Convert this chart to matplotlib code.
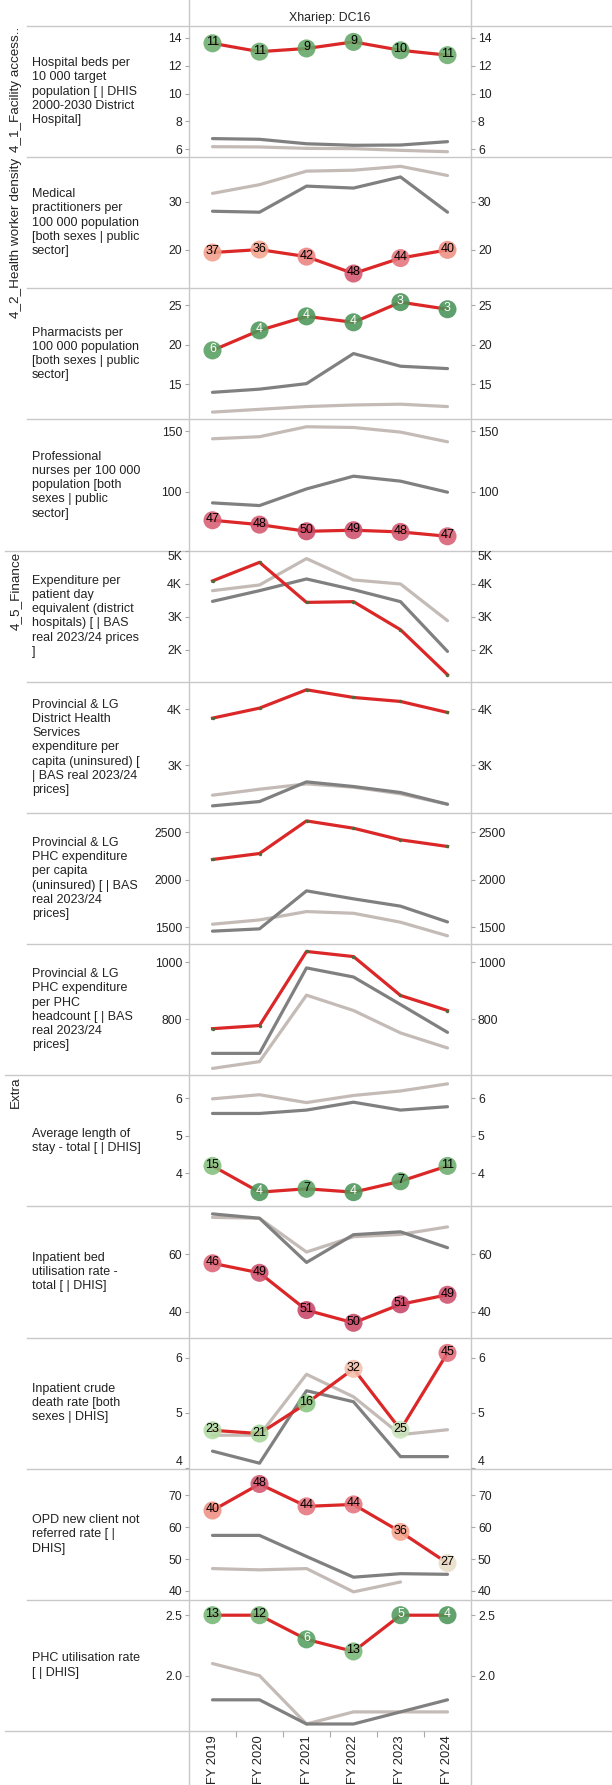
import numpy as np
import matplotlib.pyplot as plt
from matplotlib.colors import LinearSegmentedColormap

plt.rcParams['font.family'] = ['Liberation Sans', 'DejaVu Sans']

# --- data ---
years = ["FY 2019", "FY 2020", "FY 2021", "FY 2022", "FY 2023", "FY 2024"]

row_labels = [
    "Hospital beds per\n10 000 target\npopulation [ | DHIS\n2000-2030 District\nHospital]",
    "Medical\npractitioners per\n100 000 population\n[both sexes | public\nsector]",
    "Pharmacists per\n100 000 population\n[both sexes | public\nsector]",
    "Professional\nnurses per 100 000\npopulation [both\nsexes | public\nsector]",
    "Expenditure per\npatient day\nequivalent (district\nhospitals) [ | BAS\nreal 2023/24 prices\n]",
    "Provincial & LG\nDistrict Health\nServices\nexpenditure per\ncapita (uninsured) [\n| BAS real 2023/24\nprices]",
    "Provincial & LG\nPHC expenditure\nper capita\n(uninsured) [ | BAS\nreal 2023/24\nprices]",
    "Provincial & LG\nPHC expenditure\nper PHC\nheadcount [ | BAS\nreal 2023/24\nprices]",
    "Average length of\nstay - total [ | DHIS]",
    "Inpatient bed\nutilisation rate -\ntotal [ | DHIS]",
    "Inpatient crude\ndeath rate [both\nsexes | DHIS]",
    "OPD new client not\nreferred rate [ |\nDHIS]",
    "PHC utilisation rate\n[ | DHIS]",
]

# group label, first row, last row (exclusive)
groups = [("4_1_Facility access..", 0, 1), ("4_2_Health worker density", 1, 4),
          ("4_5_Finance", 4, 8), ("Extra", 8, 13)]

# district values (red line)
dc16 = [
    [13.6, 13.0, 13.23, 13.7, 13.1, 12.75],
    [19.45, 20.06, 18.6, 15.1, 18.3, 20.0],
    [19.3, 21.83, 23.6, 22.85, 25.4, 24.5],
    [76.6, 73.0, 67.5, 68.4, 67.0, 63.4],
    [4082, 4645, 3433, 3455, 2606, 1242],
    [3839, 4018, 4345, 4208, 4137, 3940],
    [2212, 2275, 2618, 2541, 2419, 2349],
    [766, 777, 1038, 1020, 883, 830],
    [4.2, 3.5, 3.59, 3.5, 3.79, 4.2],
    [56.8, 53.5, 40.6, 36.2, 42.6, 45.9],
    [4.68, 4.62, 5.17, 5.8, 4.69, 6.09],
    [65.2, 73.5, 66.5, 67.1, 58.5, 48.7],
    [2.5, 2.5, 2.3, 2.2, 2.5, 2.5],
]

# comparison lines (dark grey and light grey)
grey_dark = [
    [6.77, 6.72, 6.4, 6.29, 6.31, 6.55],
    [28.0, 27.8, 33.2, 32.8, 35.1, 27.8],
    [14.0, 14.4, 15.1, 18.9, 17.3, 17.0],
    [90.9, 88.7, 102.4, 112.9, 108.8, 99.7],
    [3464, 3788, 4142, 3818, 3455, 1949],
    [2274, 2351, 2702, 2619, 2512, 2303],
    [1458, 1482, 1882, 1798, 1721, 1555],
    [679, 679, 980, 948, 851, 753],
    [5.6, 5.6, 5.69, 5.9, 5.69, 5.78],
    [73.9, 72.4, 57.1, 66.7, 67.7, 62.2],
    [4.3, 4.08, 5.4, 5.2, 4.2, 4.2],
    [57.4, 57.4, 50.8, 44.3, 45.4, 45.2],
    [1.8, 1.8, 1.6, 1.6, 1.7, 1.8],
]

grey_light = [
    [6.19, 6.17, 6.07, 6.05, 5.93, 5.83],
    [31.7, 33.5, 36.3, 36.5, 37.3, 35.4],
    [11.5, 11.85, 12.2, 12.4, 12.5, 12.2],
    [143.7, 145.4, 153.6, 153.0, 149.2, 141.2],
    [3788, 3960, 4758, 4112, 3990, 2879],
    [2464, 2571, 2666, 2607, 2488, 2303],
    [1531, 1576, 1664, 1646, 1552, 1409],
    [626, 650, 884, 830, 751, 698],
    [5.99, 6.1, 5.89, 6.08, 6.2, 6.39],
    [72.7, 72.4, 60.7, 66.0, 66.8, 69.4],
    [4.59, 4.59, 5.7, 5.29, 4.6, 4.69],
    [47.0, 46.6, 47.0, 39.7, 42.8, np.nan],
    [2.1, 2.0, 1.6, 1.7, 1.7, 1.7],
]

# rank of the district (None = no rank shown)
ranks = [
    [11, 11, 9, 9, 10, 11],
    [37, 36, 42, 48, 44, 40],
    [6, 4, 4, 4, 3, 3],
    [47, 48, 50, 49, 48, 47],
    None, None, None, None,
    [15, 4, 7, 4, 7, 11],
    [46, 49, 51, 50, 51, 49],
    [23, 21, 16, 32, 25, 45],
    [40, 48, 44, 44, 36, 27],
    [13, 12, 6, 13, 5, 4],
]

y_limits = [(5.44, 14.84), (12.04, 39.2), (10.57, 27.15), (51.6, 159.6),
            (1030, 5000), (2148, 4488), (1322, 2702), (602, 1064),
            (3.12, 6.62), (31.1, 76.5), (3.98, 6.37), (37.2, 78.3), (1.542, 2.627)]
y_ticks = [[6, 8, 10, 12, 14], [20, 30], [15, 20, 25], [100, 150],
           [2000, 3000, 4000, 5000], [3000, 4000], [1500, 2000, 2500], [800, 1000],
           [4, 5, 6], [40, 60], [4, 5, 6], [40, 50, 60, 70], [2.0, 2.5]]
tick_fmt = ["{:.0f}"] * 4 + ["K", "K", "{:.0f}", "{:.0f}"] + ["{:.0f}"] * 4 + ["{:.1f}"]

# --- styling ---
W, H = 612, 1785
X0, X1 = 189, 471
TOP, BOTTOM = 26, 1731
row_h = (BOTTOM - TOP) / 13
RED = "#db2727"
DARK = "#808080"
LIGHT = "#c4bbb7"
GRID = "#c8c8c8"
TXT = "#222222"

rank_cmap = LinearSegmentedColormap.from_list("rank", [
    (0.0, "#3f8c50"), (0.1, "#559e60"), (0.2, "#6cad6d"), (0.3, "#8cc783"),
    (0.42, "#acd99d"), (0.48, "#cfe6c2"), (0.52, "#f1dccb"), (0.68, "#f5a68d"),
    (0.78, "#ee8a80"), (0.85, "#e4707a"), (0.93, "#d2536e"), (1.0, "#c23e63")])

fig = plt.figure(figsize=(W / 100, H / 100), dpi=100)

# overlay in pixel coordinates for grid lines and labels
ov = fig.add_axes([0, 0, 1, 1])
ov.set_xlim(0, W)
ov.set_ylim(H, 0)
ov.axis("off")

ov.plot([X0, X0], [0, H], color=GRID, lw=1)
ov.plot([X1, X1], [0, H], color=GRID, lw=1)
for i in range(14):
    y = TOP + i * row_h
    xs = 5 if i in (4, 8, 13) else 27
    ov.plot([xs, W], [y, y], color=GRID, lw=1)

ov.text((X0 + X1) / 2, 18, "Xhariep: DC16", ha="center", va="center", fontsize=8.9, color=TXT)

for name, r0, r1 in groups:
    ov.text(16, TOP + r0 * row_h + 1, name, rotation=90, ha="center", va="top",
            fontsize=9.7, color=TXT)

for i, lab in enumerate(row_labels):
    ov.text(32, TOP + (i + 0.5) * row_h, lab, ha="left", va="center",
            fontsize=9, color=TXT, linespacing=1.25)

x = np.arange(len(years))
for i in range(13):
    y_top = TOP + i * row_h
    ax = fig.add_axes([X0 / W, 1 - (y_top + row_h) / H, (X1 - X0) / W, row_h / H])
    ax.set_facecolor("none")
    for s in ax.spines.values():
        s.set_visible(False)
    ax.set_xlim(-0.5, 5.5)
    lo, hi = y_limits[i]
    ax.set_ylim(lo, hi)

    ax.plot(x, grey_light[i], color=LIGHT, lw=2.3, solid_capstyle="round", zorder=2)
    ax.plot(x, grey_dark[i], color=DARK, lw=2.3, solid_capstyle="round", zorder=3)
    if ranks[i] is None:
        ax.plot(x, dc16[i], color=RED, lw=2.3, marker="o", ms=2.5,
                mfc="#4f6b3a", mec="none", zorder=4)
    else:
        ax.plot(x, dc16[i], color=RED, lw=2.3, zorder=4)
        cols = [rank_cmap((r - 1) / 51) for r in ranks[i]]
        ax.scatter(x, dc16[i], s=13 ** 2, c=cols, alpha=0.88, edgecolors="none", zorder=5)
        for xi, yi, r in zip(x, dc16[i], ranks[i]):
            ax.text(xi, yi + (hi - lo) * 0.008, str(r), ha="center", va="center",
                    fontsize=9, color="white" if r <= 6 else "black", zorder=6)

    ticks = y_ticks[i]
    ax.set_yticks(ticks)
    if tick_fmt[i] == "K":
        labels = [f"{t / 1000:.0f}K" for t in ticks]
    else:
        labels = [tick_fmt[i].format(t) for t in ticks]
    ax.set_yticklabels(labels)
    ax.tick_params(axis="y", left=True, right=True, labelleft=True, labelright=True,
                   length=3, width=0.8, color="#aaaaaa", pad=2, labelsize=8.8,
                   labelcolor=TXT)
    # keep edge labels inside the row like the original
    for tk in ax.yaxis.get_major_ticks():
        t = tk.get_loc()
        if (hi - t) / (hi - lo) * row_h < 6:
            tk.label1.set_va("top")
            tk.label2.set_va("top")
        elif (t - lo) / (hi - lo) * row_h < 6:
            tk.label1.set_va("bottom")
            tk.label2.set_va("bottom")

    if i == 12:
        ax.set_xticks(x)
        ax.set_xticklabels(years, rotation=90, fontsize=9.3, color=TXT, va="top")
        ax.set_xticks(np.arange(0.5, 5, 1), minor=True)
        ax.tick_params(axis="x", which="major", length=0, pad=3)
        ax.tick_params(axis="x", which="minor", length=4, width=0.8, color="#aaaaaa")
    else:
        ax.tick_params(axis="x", bottom=False, labelbottom=False)

fig.savefig("out.png", dpi=100)
